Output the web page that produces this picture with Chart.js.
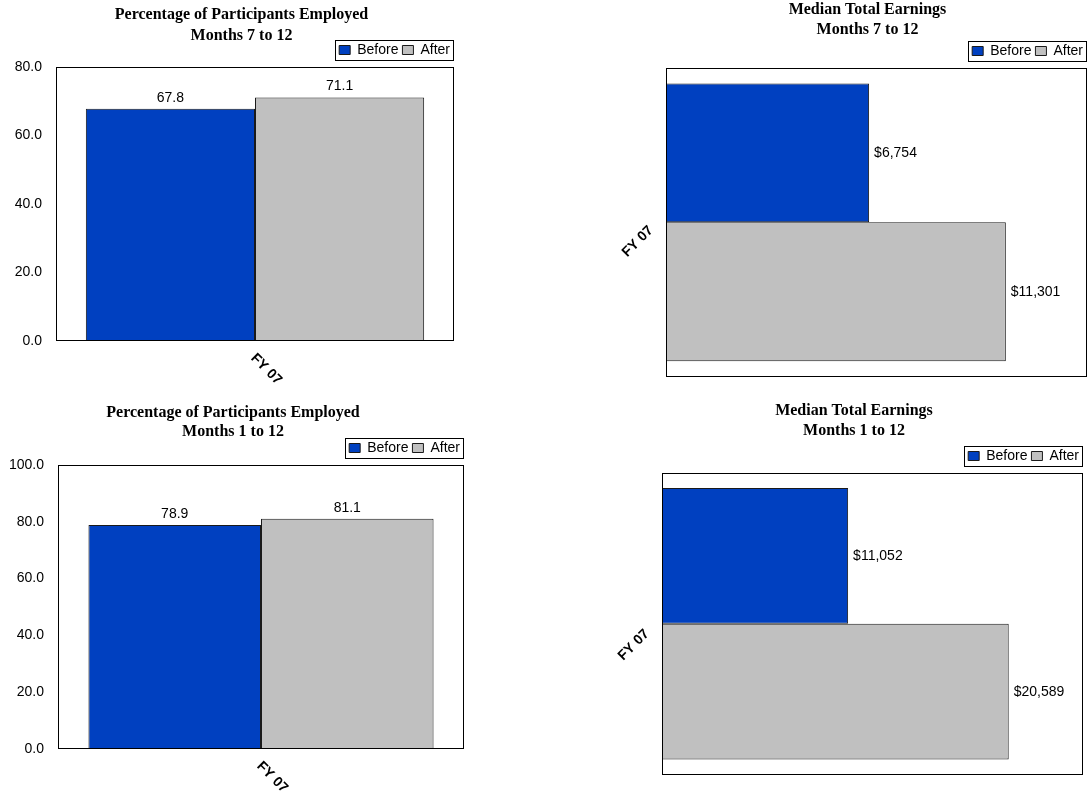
<!DOCTYPE html>
<html>
<head>
<meta charset="utf-8">
<script src="https://cdn.jsdelivr.net/npm/chart.js@4.4.1/dist/chart.umd.min.js"></script>
<style>
    html, body { margin: 0; background: #fff; overflow: hidden; }
    body { width: 1088px; height: 798px; position: relative; }
    .panel { position: absolute; }
</style>
</head>
<body>
<div class="panel" style="left:0;top:0"><canvas id="emp7" width="483" height="400"></canvas></div>
<div class="panel" style="left:580px;top:0"><canvas id="earn7" width="550" height="400"></canvas></div>
<div class="panel" style="left:0;top:400px"><canvas id="emp1" width="464" height="398"></canvas></div>
<div class="panel" style="left:580px;top:400px"><canvas id="earn1" width="523" height="398"></canvas></div>
<script>
// donnees
const categories = ["FY 07"];
const seriesNames = ["Before", "After"];
const employed7to12 = [67.8, 71.1];
const employed1to12 = [78.9, 81.1];
const earnings7to12 = [6754, 11301];
const earnings1to12 = [11052, 20589];
const employedTicks7to12 = [0, 20, 40, 60, 80];
const employedTicks1to12 = [0, 20, 40, 60, 80, 100];
const earningsMax7to12 = 14000;
const earningsMax1to12 = 25000;

const seriesColors = ["#0040C0", "#C0C0C0"];
const SANS = '"Liberation Sans", Arial, sans-serif';
const SERIF = '"Liberation Serif", "Times New Roman", serif';

Chart.defaults.font.family = SANS;
Chart.defaults.font.size = 14;
Chart.defaults.color = "#000";
Chart.defaults.animation = false;

// cadre noir autour de la zone de trace
const plotFrame = {
    id: "plotFrame",
    afterDraw(chart) {
        const a = chart.chartArea;
        const ctx = chart.ctx;
        ctx.save();
        ctx.strokeStyle = "#000";
        ctx.lineWidth = 1;
        ctx.strokeRect(Math.round(a.left) + 0.5, Math.round(a.top) + 0.5,
            Math.round(a.right - a.left) - 1, Math.round(a.bottom - a.top) - 1);
        ctx.restore();
    }
};

// cadre autour de la legende
const legendFrame = {
    id: "legendFrame",
    afterDraw(chart) {
        const boxes = chart.legend.legendHitBoxes;
        if (!boxes || !boxes.length) return;
        const l = Math.round(Math.min(...boxes.map(b => b.left)) - 4);
        const r = Math.round(Math.max(...boxes.map(b => b.left + b.width)) + 3);
        const t = Math.round(Math.min(...boxes.map(b => b.top)) - 3);
        const b = Math.round(Math.max(...boxes.map(b => b.top + b.height)) + 3);
        const ctx = chart.ctx;
        ctx.save();
        ctx.strokeStyle = "#000";
        ctx.lineWidth = 1;
        ctx.strokeRect(l + 0.5, t + 0.5, r - l, b - t);
        ctx.restore();
    }
};

// valeurs au bout des barres
const valueLabels = {
    id: "valueLabels",
    afterDatasetsDraw(chart, args, opts) {
        const ctx = chart.ctx;
        const horizontal = chart.options.indexAxis === "y";
        ctx.save();
        ctx.font = "14px " + SANS;
        ctx.fillStyle = "#000";
        chart.data.datasets.forEach((ds, i) => {
            chart.getDatasetMeta(i).data.forEach((bar, j) => {
                const v = ds.data[j];
                const text = opts.style === "money" ? "$" + v.toLocaleString("en-US") : v.toFixed(1);
                if (horizontal) {
                    ctx.textAlign = "left";
                    ctx.textBaseline = "middle";
                    ctx.fillText(text, bar.x + opts.gap, bar.y);
                } else {
                    ctx.textAlign = "center";
                    ctx.textBaseline = "alphabetic";
                    ctx.fillText(text, bar.x, bar.y - opts.gap);
                }
            });
        });
        ctx.restore();
    }
};

// etiquette de categorie inclinee vers le bas (graphiques verticaux)
const slantedCategory = {
    id: "slantedCategory",
    afterDraw(chart, args, opts) {
        if (!opts.enabled) return;
        const xs = chart.scales.x;
        const ctx = chart.ctx;
        ctx.save();
        ctx.font = "bold 14px " + SANS;
        ctx.fillStyle = "#000";
        ctx.textAlign = "left";
        ctx.textBaseline = "middle";
        xs.getLabels().forEach((label, i) => {
            ctx.save();
            ctx.translate(xs.getPixelForTick(i) - 2, chart.chartArea.bottom + 15);
            ctx.rotate(Math.PI / 4);
            ctx.fillText(label, 0, 0);
            ctx.restore();
        });
        ctx.restore();
    }
};

function titleBlock(lines, mid1, mid2, plotTop) {
    const legendTop = plotTop - 28;
    const half2 = Math.min(4, legendTop - mid2);
    const font = lh => ({ family: SERIF, size: 16, weight: "bold", lineHeight: lh + "px" });
    return {
        title: {
            display: true, text: lines[0], color: "#000", font: font(20),
            padding: { top: mid1 - 10, bottom: mid2 - half2 - mid1 - 10 }
        },
        subtitle: {
            display: true, text: lines[1], color: "#000", font: font(2 * half2),
            padding: { top: 0, bottom: legendTop - mid2 - half2 }
        }
    };
}

function buildDatasets(values, catPct) {
    return seriesNames.map((name, i) => ({
        label: name,
        data: [values[i]],
        backgroundColor: seriesColors[i],
        borderColor: "#1a1a1a",
        borderWidth: 1,
        barPercentage: 1,
        categoryPercentage: catPct,
        xAxisID: "x",
        yAxisID: "y"
    }));
}

function legendOptions() {
    return {
        position: "top",
        align: "end",
        fullSize: false,
        labels: { boxWidth: 11, boxHeight: 9, padding: 4, font: { size: 14 }, color: "#000" }
    };
}

// axe vide a droite : decale la zone de trace sans toucher au centrage du titre
function spacerAxis(width) {
    return {
        type: "linear",
        position: "right",
        display: width > 0,
        grid: { display: false, drawTicks: false },
        border: { display: false },
        ticks: { display: false },
        afterFit: s => { s.width = width; }
    };
}

function employedChart(id, values, ticks, lines, lay) {
    const heads = titleBlock(lines, lay.mid1, lay.mid2, lay.plotTop);
    return new Chart(document.getElementById(id), {
        type: "bar",
        data: { labels: categories, datasets: buildDatasets(values, 0.85) },
        options: {
            responsive: false,
            events: [],
            layout: { padding: { top: 0, left: lay.left, right: 0, bottom: lay.bottom } },
            scales: {
                x: { display: false },
                y: {
                    min: ticks[0],
                    max: ticks[ticks.length - 1],
                    afterBuildTicks: s => { s.ticks = ticks.map(v => ({ value: v })); },
                    ticks: { padding: 14, color: "#000", font: { size: 14 }, callback: v => v.toFixed(1) },
                    grid: { display: false, drawTicks: false },
                    border: { display: false },
                    afterFit: s => { s.width = lay.axisWidth; }
                },
                pad: spacerAxis(lay.spacer)
            },
            plugins: {
                title: heads.title,
                subtitle: heads.subtitle,
                legend: legendOptions(),
                tooltip: { enabled: false },
                valueLabels: { style: "pct", gap: 7 },
                slantedCategory: { enabled: true }
            }
        },
        plugins: [plotFrame, legendFrame, valueLabels, slantedCategory]
    });
}

function earningsChart(id, values, maxValue, lines, lay) {
    const heads = titleBlock(lines, lay.mid1, lay.mid2, lay.plotTop);
    return new Chart(document.getElementById(id), {
        type: "bar",
        data: { labels: categories, datasets: buildDatasets(values, 0.9) },
        options: {
            indexAxis: "y",
            responsive: false,
            events: [],
            layout: { padding: { top: 0, left: lay.left, right: 0, bottom: lay.bottom } },
            scales: {
                x: { display: false, min: 0, max: maxValue },
                y: {
                    ticks: {
                        minRotation: 45, maxRotation: 45, padding: 15, labelOffset: lay.labelShift,
                        color: "#000", font: { size: 14, weight: "bold" }
                    },
                    grid: { display: false, drawTicks: false },
                    border: { display: false },
                    afterFit: s => { s.width = lay.axisWidth; }
                },
                pad: spacerAxis(lay.spacer)
            },
            plugins: {
                title: heads.title,
                subtitle: heads.subtitle,
                legend: legendOptions(),
                tooltip: { enabled: false },
                valueLabels: { style: "money", gap: 5 },
                slantedCategory: { enabled: false }
            }
        },
        plugins: [plotFrame, legendFrame, valueLabels, slantedCategory]
    });
}

employedChart("emp7", employed7to12, employedTicks7to12,
    ["Percentage of Participants Employed", "Months 7 to 12"],
    { left: 0, bottom: 59, axisWidth: 56, spacer: 29, mid1: 15.3, mid2: 36.3, plotTop: 67 });

earningsChart("earn7", earnings7to12, earningsMax7to12,
    ["Median Total Earnings", "Months 7 to 12"],
    { left: 25, bottom: 18, axisWidth: 61, spacer: 43, mid1: 9.6, mid2: 29.6, plotTop: 68, labelShift: 6 });

employedChart("emp1", employed1to12, employedTicks1to12,
    ["Percentage of Participants Employed", "Months 1 to 12"],
    { left: 2, bottom: 49, axisWidth: 56, spacer: 0, mid1: 12.9, mid2: 31.9, plotTop: 65 });

earningsChart("earn1", earnings1to12, earningsMax1to12,
    ["Median Total Earnings", "Months 1 to 12"],
    { left: 25, bottom: 10, axisWidth: 57, spacer: 20, mid1: 10.6, mid2: 30.6, plotTop: 73, labelShift: 8 });
</script>
</body>
</html>
